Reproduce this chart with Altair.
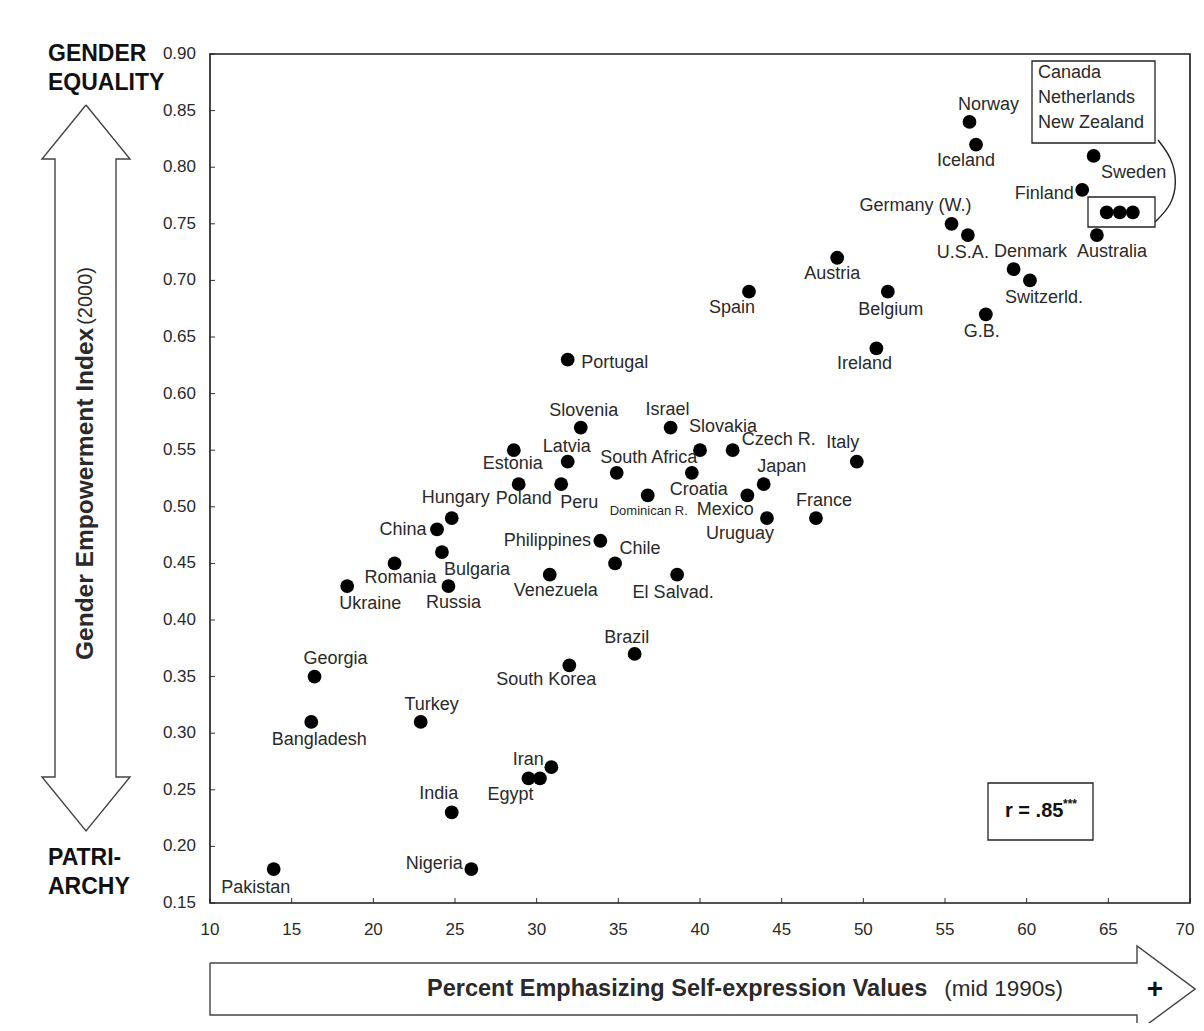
import altair as alt
import pandas as pd

# ---------------- data ----------------
countries = ["Norway", "Iceland", "Sweden", "Finland", "Canada", "Netherlands", "New Zealand",
             "Australia", "Germany (W.)", "U.S.A.", "Denmark", "Switzerld.", "Austria", "Belgium",
             "Spain", "G.B.", "Ireland", "Portugal", "Slovenia", "Israel", "Estonia", "Slovakia",
             "Czech R.", "Latvia", "Italy", "South Africa", "Croatia", "Poland", "Peru", "Japan",
             "Dominican R.", "Mexico", "Hungary", "Uruguay", "France", "China", "Philippines",
             "Bulgaria", "Romania", "Chile", "Venezuela", "El Salvad.", "Ukraine", "Russia",
             "Brazil", "South Korea", "Georgia", "Bangladesh", "Turkey", "Iran", "Egypt",
             "(unlabeled)", "India", "Nigeria", "Pakistan"]

self_expression = [56.5, 56.9, 64.1, 63.4, 64.9, 65.7, 66.5, 64.3, 55.4, 56.4, 59.2, 60.2, 48.4,
                   51.5, 43.0, 57.5, 50.8, 31.9, 32.7, 38.2, 28.6, 40.0, 42.0, 31.9, 49.6, 34.9,
                   39.5, 28.9, 31.5, 43.9, 36.8, 42.9, 24.8, 44.1, 47.1, 23.9, 33.9, 24.2, 21.3,
                   34.8, 30.8, 38.6, 18.4, 24.6, 36.0, 32.0, 16.4, 16.2, 22.9, 30.9, 29.5, 30.2,
                   24.8, 26.0, 13.9]

gem = [0.84, 0.82, 0.81, 0.78, 0.76, 0.76, 0.76, 0.74, 0.75, 0.74, 0.71, 0.70, 0.72, 0.69, 0.69,
       0.67, 0.64, 0.63, 0.57, 0.57, 0.55, 0.55, 0.55, 0.54, 0.54, 0.53, 0.53, 0.52, 0.52, 0.52,
       0.51, 0.51, 0.49, 0.49, 0.49, 0.48, 0.47, 0.46, 0.45, 0.45, 0.44, 0.44, 0.43, 0.43, 0.37,
       0.36, 0.35, 0.31, 0.31, 0.27, 0.26, 0.26, 0.23, 0.18, 0.18]

x_ticks = [10, 15, 20, 25, 30, 35, 40, 45, 50, 55, 60, 65, 70]
y_ticks = [0.15, 0.20, 0.25, 0.30, 0.35, 0.40, 0.45, 0.50, 0.55, 0.60, 0.65, 0.70, 0.75, 0.80,
           0.85, 0.90]
x_tick_labels = [str(v) for v in x_ticks]
y_tick_labels = ["%.2f" % v for v in y_ticks]

boxed_countries = ["Canada", "Netherlands", "New Zealand"]
correlation_text = "r = .85"

# ---------------- layout / styling ----------------
W, H = 980, 849
X_DOM, Y_DOM = [10, 70], [0.15, 0.90]
PX = W / (X_DOM[1] - X_DOM[0])
PY = H / (Y_DOM[1] - Y_DOM[0])
FONT = "Liberation Sans"
TXT = "#2a2a2a"

# label placement: pixel offset of the label centre from its point
label_layout = {
    "Norway": (19, -17), "Iceland": (-10, 16), "Sweden": (40, 17), "Finland": (-38, 4),
    "Australia": (15, 17), "Germany (W.)": (-36, -18), "U.S.A.": (-5, 18), "Denmark": (17, -17),
    "Switzerld.": (14, 18), "Austria": (-5, 16), "Belgium": (3, 18), "Spain": (-17, 16),
    "G.B.": (-4, 18), "Ireland": (-12, 16), "Portugal": (47, 3), "Slovenia": (3, -17),
    "Israel": (-3, -18), "Estonia": (-1, 14), "Slovakia": (23, -23), "Czech R.": (46, -10),
    "Latvia": (-1, -15), "Italy": (-14, -19), "South Africa": (32, -15), "Croatia": (7, 17),
    "Poland": (5, 15), "Peru": (18, 19), "Japan": (18, -17), "Dominican R.": (1, 16),
    "Mexico": (-22, 15), "Hungary": (4, -20), "Uruguay": (-27, 16), "France": (8, -17),
    "China": (-34, 1), "Philippines": (-53, 0), "Bulgaria": (35, 18), "Romania": (6, 15),
    "Chile": (25, -14), "Venezuela": (6, 16), "El Salvad.": (-4, 18), "Ukraine": (23, 18),
    "Russia": (5, 17), "Brazil": (-8, -16), "South Korea": (-23, 15), "Georgia": (21, -18),
    "Bangladesh": (8, 18), "Turkey": (11, -17), "Iran": (-23, -7), "Egypt": (-18, 17),
    "India": (-13, -18), "Nigeria": (-37, -5), "Pakistan": (-18, 19),
}
small_labels = {"Dominican R.": 13}

assert len(countries) == len(self_expression) == len(gem)
points = pd.DataFrame({"country": countries, "x": self_expression, "y": gem})

lab_rows = []
for c, xv, yv in zip(countries, self_expression, gem):
    if c in label_layout:
        dx, dy = label_layout[c]
        lab_rows.append({"label": c, "lx": xv + dx / PX, "ly": yv - dy / PY,
                         "fs": small_labels.get(c, 18)})
labels = pd.DataFrame(lab_rows)

xs = alt.Scale(domain=X_DOM, nice=False, zero=False)
ys = alt.Scale(domain=Y_DOM, nice=False, zero=False)

pts = alt.Chart(points).mark_circle(size=190, color="black", opacity=1).encode(
    x=alt.X("x:Q", scale=xs, axis=None),
    y=alt.Y("y:Q", scale=ys, axis=None),
)

lbl = alt.Chart(labels).mark_text(font=FONT, color=TXT, align="center",
                                  baseline="middle").encode(
    x=alt.X("lx:Q", scale=xs, axis=None),
    y=alt.Y("ly:Q", scale=ys, axis=None),
    text="label:N",
    size=alt.Size("fs:Q", scale=None, legend=None),
)

# axis ticks (pointing inwards) and tick labels, placed through the scales
xt = alt.Chart(pd.DataFrame({"v": x_ticks})).mark_rule(color="#333", strokeWidth=1).encode(
    x=alt.X("v:Q", scale=xs, axis=None), y=alt.value(H), y2=alt.value(H - 5))
yt = alt.Chart(pd.DataFrame({"v": y_ticks})).mark_rule(color="#333", strokeWidth=1).encode(
    y=alt.Y("v:Q", scale=ys, axis=None), x=alt.value(0), x2=alt.value(5))
xl = alt.Chart(pd.DataFrame({"v": x_ticks[:-1], "t": x_tick_labels[:-1]})).mark_text(
    font=FONT, fontSize=17, color=TXT, align="center", baseline="middle").encode(
    x=alt.X("v:Q", scale=xs, axis=None), y=alt.value(H + 27), text="t:N")
# last label nudged left so it stays inside the page edge
xl_last = alt.Chart(pd.DataFrame({"v": x_ticks[-1:], "t": x_tick_labels[-1:]})).mark_text(
    font=FONT, fontSize=17, color=TXT, align="center", baseline="middle", dx=-5).encode(
    x=alt.X("v:Q", scale=xs, axis=None), y=alt.value(H + 27), text="t:N")
yl = alt.Chart(pd.DataFrame({"v": y_ticks, "t": y_tick_labels})).mark_text(
    font=FONT, fontSize=17, color=TXT, align="right", baseline="middle").encode(
    y=alt.Y("v:Q", scale=ys, axis=None), x=alt.value(-14), text="t:N")


# ---------------- decorations (pixel coords relative to plot origin) ----------------
def path_layer(pts_xy, color="#333", width=1.5, interp="linear"):
    df = pd.DataFrame({"px": [p[0] for p in pts_xy], "py": [p[1] for p in pts_xy],
                       "i": list(range(len(pts_xy)))})
    return alt.Chart(df).mark_line(color=color, strokeWidth=width, interpolate=interp).encode(
        x=alt.X("px:Q", scale=None, axis=None), y=alt.Y("py:Q", scale=None, axis=None),
        order="i:Q")


def text_layer(rows, size, weight="normal", align="left", angle=0, color=TXT):
    df = pd.DataFrame(rows, columns=["px", "py", "t"])
    return alt.Chart(df).mark_text(font=FONT, fontSize=size, fontWeight=weight, align=align,
                                   baseline="middle", angle=angle, color=color).encode(
        x=alt.X("px:Q", scale=None, axis=None), y=alt.Y("py:Q", scale=None, axis=None),
        text="t:N")


def rect_layer(x1, y1, x2, y2, width=1.3, color="#222"):
    df = pd.DataFrame({"a": [x1], "b": [y1], "c": [x2], "d": [y2]})
    return alt.Chart(df).mark_rect(fillOpacity=0, stroke=color, strokeWidth=width).encode(
        x=alt.X("a:Q", scale=None, axis=None), x2="c:Q",
        y=alt.Y("b:Q", scale=None, axis=None), y2="d:Q")


frame = rect_layer(0, 0, W, H, width=1.6, color="#1a1a1a")

y_arrow = path_layer([(-124, 51), (-80, 105), (-94, 105), (-94, 723), (-80, 723), (-124, 777),
                      (-168, 723), (-155, 723), (-155, 105), (-168, 105), (-124, 51)],
                     color="#444", width=1.4)
x_arrow = path_layer([(0, 909), (927, 909), (927, 892), (985, 935), (927, 978), (927, 961),
                      (0, 961), (0, 909)], color="#444", width=1.4)

y_title_b = text_layer([(-124, 606, "Gender Empowerment Index")], 24.5, "bold", "left", 270)
y_title_n = text_layer([(-124, 213, "(2000)")], 20, "normal", "right", 270)
x_title_b = text_layer([(217, 935, "Percent Emphasizing Self-expression Values")], 23.5,
                       "bold", "left")
x_title_n = text_layer([(853, 935, "(mid 1990s)")], 22.5, "normal", "right")
plus = text_layer([(945, 936, "+")], 28, "bold", "center", color="#111")

corner = text_layer([(-162, 0, "GENDER"), (-162, 29, "EQUALITY"),
                     (-162, 804, "PATRI-"), (-162, 833, "ARCHY")], 23, "bold", "left",
                    color="#111")

box_names = text_layer([(828, 19 + 25 * i, c) for i, c in enumerate(boxed_countries)], 18,
                       "normal", "left")
box1 = rect_layer(822, 7, 945, 89)
box2 = rect_layer(878, 143, 945, 173)
bracket = path_layer([(948, 86), (962, 104), (967, 128), (962, 151), (945, 168)],
                     color="#222", width=1.4, interp="basis")

r_box = rect_layer(778, 729, 883, 786)
r_txt = text_layer([(795, 757, correlation_text)], 20, "bold", "left", color="#111")
r_star = text_layer([(853, 750, "***")], 12, "bold", "left", color="#111")

chart = alt.layer(
    y_arrow, x_arrow, y_title_b, y_title_n, x_title_b, x_title_n, plus, corner,
    box1, box2, bracket, box_names, r_box, r_txt, r_star,
    xt, yt, xl, xl_last, yl, frame, pts, lbl,
).properties(
    width=W, height=H,
    autosize=alt.AutoSizeParams(type="none"),
    padding={"left": 202, "top": 46, "right": 6, "bottom": 120},
).configure(
    font=FONT, background="white"
).configure_view(
    strokeWidth=0
)

chart.save("out.html", embed_options={"renderer": "svg", "actions": False})
